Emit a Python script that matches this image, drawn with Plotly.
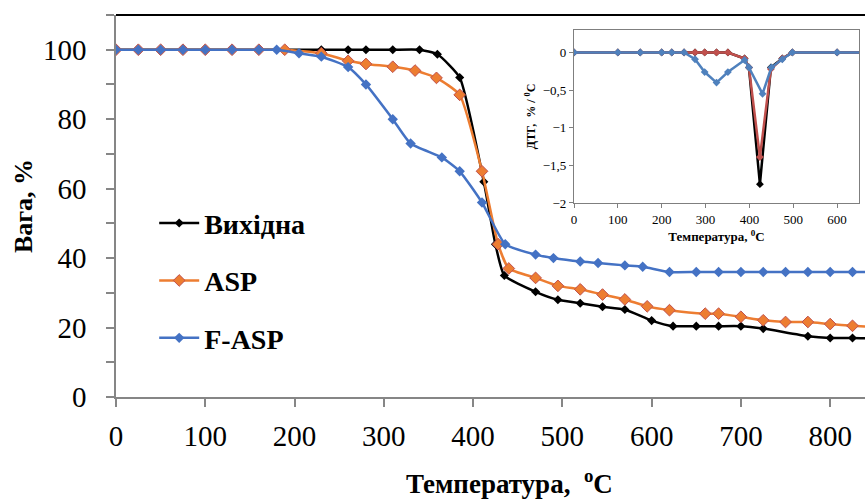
import plotly.graph_objects as go

# ---------------- main TGA data ----------------
black_x = [0, 25, 50, 75, 100, 130, 160, 189, 230, 260, 280, 310, 340, 360, 385, 412, 425, 435,
           470, 495, 520, 545, 570, 600, 624, 650, 675, 700, 725, 775, 800, 825, 850]
black_y = [100, 100, 100, 100, 100, 100, 100, 100, 100, 100, 100, 100, 100, 98.7, 92, 62, 44, 35,
           30.3, 28, 27, 26, 25.2, 22, 20.4, 20.4, 20.4, 20.4, 19.7, 17.5, 17, 17, 16.8]

asp_x = [0, 25, 50, 75, 100, 130, 160, 189, 230, 260, 280, 310, 335, 359, 385, 410, 428, 440,
         470, 495, 520, 545, 570, 595, 620, 660, 675, 700, 725, 750, 775, 800, 825, 850]
asp_y = [100, 100, 100, 100, 100, 100, 100, 100, 99, 96.8, 95.9, 95.1, 94, 91.9, 87, 65, 44, 37,
         34.3, 32, 31, 29.5, 28.1, 26.1, 25, 24, 24, 23.1, 22.1, 21.6, 21.6, 21, 20.5, 20.2]

fasp_x = [0, 25, 50, 75, 100, 130, 160, 180, 205, 230, 260, 280, 310, 330, 365, 385, 410, 436,
          470, 490, 520, 540, 570, 590, 620, 650, 675, 700, 725, 750, 775, 800, 825, 850]
fasp_y = [100, 100, 100, 100, 100, 100, 100, 100, 99, 98, 95, 90, 80, 73, 69, 65, 56, 44,
          41, 40, 39, 38.6, 37.9, 37.5, 36, 36, 36, 36, 36, 36, 36, 36, 36, 36]

series_names = ["Вихідна", "ASP", "F-ASP"]

# ---------------- inset DTG data ----------------
dtg_x = [0, 100, 151, 200, 223, 251, 276, 298, 325, 351, 389, 399, 424, 449, 475, 498, 600, 700]
dtg_black = [0, 0, 0, 0, 0, 0, 0, 0, 0, 0, -0.08, -0.2, -1.75, -0.2, -0.08, 0, 0, 0]
dtg_asp = [0, 0, 0, 0, 0, 0, 0, 0, 0, 0, -0.08, -0.2, -1.39, -0.22, -0.08, 0, 0, 0]
dtg_fasp_x = [0, 100, 151, 200, 223, 251, 276, 298, 325, 351, 389, 399, 430, 450, 475, 498, 600, 700]
dtg_fasp = [0, 0, 0, 0, 0, 0, -0.09, -0.26, -0.40, -0.26, -0.1, -0.2, -0.55, -0.2, -0.09, 0, 0, 0]

main_ticks = [0, 20, 40, 60, 80, 100]
x_ticks = [0, 100, 200, 300, 400, 500, 600, 700, 800]
inset_yticks = [0, -0.5, -1, -1.5, -2]
inset_xticks = [0, 100, 200, 300, 400, 500, 600]

BLACK = "#000000"
ORANGE = "#ED7D31"
ORANGE_EDGE = "#C0504D"
BLUE = "#4472C4"
RED_I = "#C0504D"
BLUE_I = "#4F81BD"
GREY = "#868686"
SERIF = "Liberation Serif, Times New Roman, serif"

fig = go.Figure()

fig.add_trace(go.Scatter(
    x=black_x, y=black_y, name=series_names[0], mode="lines+markers",
    line=dict(color=BLACK, width=2.5, shape="spline", smoothing=0.5),
    marker=dict(symbol="diamond", size=7, color=BLACK),
    legendgroup="a"))
fig.add_trace(go.Scatter(
    x=asp_x, y=asp_y, name=series_names[1], mode="lines+markers",
    line=dict(color=ORANGE, width=2.5, shape="spline", smoothing=0.5),
    marker=dict(symbol="diamond", size=9, color=ORANGE, line=dict(color=ORANGE_EDGE, width=1)),
    legendgroup="b"))
fig.add_trace(go.Scatter(
    x=fasp_x, y=fasp_y, name=series_names[2], mode="lines+markers",
    line=dict(color=BLUE, width=2.5, shape="spline", smoothing=0.5),
    marker=dict(symbol="diamond", size=8, color=BLUE),
    legendgroup="c"))

# inset traces
fig.add_trace(go.Scatter(
    x=dtg_x, y=dtg_black, xaxis="x2", yaxis="y2", mode="lines+markers", showlegend=False,
    line=dict(color=BLACK, width=2.5), marker=dict(symbol="diamond", size=6, color=BLACK)))
fig.add_trace(go.Scatter(
    x=dtg_x, y=dtg_asp, xaxis="x2", yaxis="y2", mode="lines+markers", showlegend=False,
    line=dict(color=RED_I, width=2.5), marker=dict(symbol="diamond", size=6, color=RED_I)))
fig.add_trace(go.Scatter(
    x=dtg_fasp_x, y=dtg_fasp, xaxis="x2", yaxis="y2", mode="lines+markers", showlegend=False,
    line=dict(color=BLUE_I, width=2.5), marker=dict(symbol="diamond", size=6, color=BLUE_I)))

fig.update_layout(
    width=865, height=504,
    margin=dict(l=116, r=0, t=15, b=107),
    paper_bgcolor="white", plot_bgcolor="white",
    separators=", ",
    font=dict(family=SERIF, color="black"),
    showlegend=True,
    legend=dict(x=0.051, y=0.52, xanchor="left", yanchor="top",
                font=dict(family=SERIF, size=28, color="black", weight="bold"),
                bgcolor="rgba(0,0,0,0)", tracegroupgap=18, itemwidth=40),
    xaxis=dict(range=[0, 839], tickvals=x_ticks, showgrid=False, zeroline=False,
               showline=True, linecolor=GREY, linewidth=1.5,
               ticks="outside", ticklen=8, tickcolor=GREY, tickwidth=1.5,
               tickfont=dict(family=SERIF, size=29, color="black"), ticklabelstandoff=4),
    yaxis=dict(range=[0, 110], tickvals=main_ticks, showgrid=False, zeroline=False,
               showline=True, linecolor=GREY, linewidth=1.5,
               ticks="outside", ticklen=8, tickcolor=GREY, tickwidth=1.5,
               minor=dict(dtick=10, ticks="outside", ticklen=8, tickcolor=GREY, tickwidth=1.5, showgrid=False),
               tickfont=dict(family=SERIF, size=29, color="black"), ticklabelstandoff=14,
               title=dict(text="Вага, %", font=dict(family=SERIF, size=26, color="black", weight="bold"),
                          standoff=3)),
    xaxis2=dict(domain=[0.6115, 0.992], anchor="y2", range=[0, 650], tickvals=inset_xticks,
                showgrid=False, zeroline=False, showline=True, mirror=True,
                linecolor="#7f7f7f", linewidth=1.2, ticks="outside", ticklen=4,
                tickcolor="#7f7f7f", tickfont=dict(family=SERIF, size=13, color="black"),
                title=dict(text="Температура, <sup>0</sup>C",
                           font=dict(family=SERIF, size=13, color="black", weight="bold"),
                           standoff=6)),
    yaxis2=dict(domain=[0.508, 0.961], anchor="x2", range=[-2, 0.3], tickvals=inset_yticks,
                showgrid=False, zeroline=False, showline=True, mirror=True,
                linecolor="#7f7f7f", linewidth=1.2, ticks="outside", ticklen=4,
                tickcolor="#7f7f7f", tickfont=dict(family=SERIF, size=13, color="black"),
                title=dict(text="ДТГ,  % / <sup>0</sup>C",
                           font=dict(family=SERIF, size=12, color="black", weight="bold"),
                           standoff=4)),
    annotations=[dict(text="Температура,  <sup>o</sup>C", xref="paper", yref="paper",
                      x=0.525, y=-0.2225, xanchor="center", yanchor="middle", showarrow=False,
                      font=dict(family=SERIF, size=27, color="black", weight="bold"))],
    shapes=[dict(type="line", xref="paper", yref="paper", x0=0, x1=1, y0=1, y1=1,
                 line=dict(color="black", width=2))],
)

# remove the browser's default 8px body margin so the 865x504 figure fills the window exactly
fig.write_html("out.html",
               config={"displayModeBar": False},
               post_script="document.body.style.margin='0';document.body.style.overflow='hidden';")
